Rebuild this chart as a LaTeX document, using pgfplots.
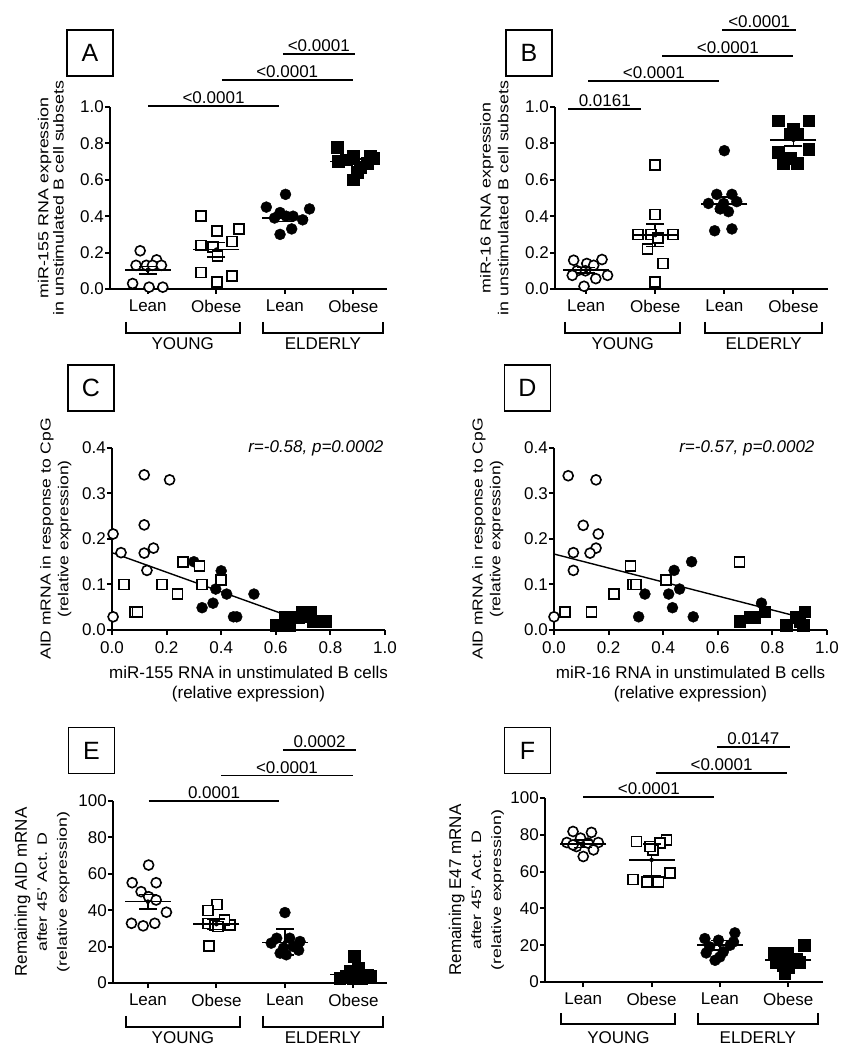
\documentclass[border=0pt]{standalone}
\usepackage{pgfplots}
\pgfplotsset{compat=1.18}
\usepackage{fontspec}
\setmainfont{Liberation Sans}
\usepackage{graphicx}
\newcommand\fs{\fontsize{17}{20}\selectfont}
\newcommand\sig[5]{\draw[line width=1.6pt] (axis cs:#1,#4) -- (axis cs:#2,#4); \node[font=\fs, anchor=base, yshift=2.5pt] at (axis cs:#3,#4) {#5};}
\newcommand\brk[7]{%
 \draw[line width=2pt] (axis cs:#1,#5) -- (axis cs:#1,#6) -- (axis cs:#2,#6) -- (axis cs:#2,#5);
 \draw[line width=2pt] (axis cs:#3,#5) -- (axis cs:#3,#6) -- (axis cs:#4,#6) -- (axis cs:#4,#5);
 \node[font=\fs] at (axis cs:{0.5*(#1+#2)},#7) {YOUNG};
 \node[font=\fs] at (axis cs:{0.5*(#3+#4)},#7) {ELDERLY};}
\pgfplotsset{
 gp/.style={scale only axis, axis x line=bottom, axis y line=left,
   axis line style={-, line width=2pt}, tick style={black, line width=2pt},
   major tick length=5pt, tick align=outside, clip=false, enlargelimits=false,
   tick label style={font=\fs}, yticklabel style={inner sep=1pt},
   xticklabel style={inner sep=1pt, yshift=-5pt},
   ylabel style={at={(rel axis cs:0,0.5)}, anchor=center, font=\fs},
   xlabel style={at={(rel axis cs:0.5,0)}, anchor=center, font=\fs}},
 cat/.style={xtick={0,1,2,3}, xticklabels={Lean,Obese,Lean,Obese}},
 oc/.style={only marks, mark=*, mark size=5pt, mark options={fill=white, draw=black, line width=1.6pt}},
 os/.style={only marks, mark=square*, mark size=5pt, mark options={fill=white, draw=black, line width=1.6pt}},
 fc/.style={only marks, mark=*, mark size=5.5pt, mark options={fill=black, draw=black}},
 fsq/.style={only marks, mark=square*, mark size=5.9pt, mark options={fill=black, draw=black}},
 mn/.style={only marks, mark=-, mark size=23pt, mark options={line width=1.6pt}},
 cap/.style={only marks, mark=-, mark size=9pt, mark options={line width=1.6pt}},
 stem/.style={only marks, mark=none, error bars/.cd, y dir=both, y explicit, error mark=none, error bar style={line width=1.6pt, black}},
}
\begin{document}
\begin{tikzpicture}
\useasboundingbox (0,0) rectangle (847pt,1050pt);
% panel letters
\foreach \x/\y/\l in {90/997/A, 529/997/B, 91/662/C, 527.5/662/D, 91.5/299.5/E, 527.5/299.5/F}
  \node[draw, line width=1.8pt, minimum width=46pt, minimum height=46pt, inner sep=0pt, font=\fontsize{25}{25}\selectfont] at (\x pt,\y pt) {\l};

% ---------------- A ----------------
\begin{axis}[gp, cat, at={(110pt,761pt)}, anchor=south west, width=277pt, height=182pt,
  xmin=-0.55, xmax=3.49, ymin=0, ymax=1,
  ytick={0,0.2,0.4,0.6,0.8,1.0}, yticklabels={0.0,0.2,0.4,0.6,0.8,1.0},
  ylabel={\scalebox{1.05}[0.85]{\fontsize{17}{18}\selectfont\begin{tabular}{@{}c@{}}miR-155 RNA expression\\in unstimulated B cell subsets\end{tabular}}},
  ylabel style={yshift=57pt}]
\addplot[oc] coordinates {(-0.11,0.21) (0.13,0.16) (-0.17,0.13) (-0.02,0.13) (0.07,0.13) (0.2,0.13) (-0.22,0.03) (0.02,0.01) (0.22,0.01)};
\addplot[os] coordinates {(0.78,0.40) (1.33,0.33) (1.01,0.32) (1.23,0.26) (0.78,0.24) (0.95,0.23) (1.02,0.18) (0.78,0.09) (1.23,0.07) (1.01,0.04)};
\addplot[fc] coordinates {(2.01,0.52) (1.73,0.45) (2.36,0.44) (1.93,0.42) (2.12,0.40) (1.85,0.39) (2.26,0.38) (2.10,0.33) (1.93,0.30) (2.02,0.40)};
\addplot[fsq] coordinates {(2.76,0.78) (3.24,0.73) (3.0,0.73) (2.90,0.71) (2.78,0.70) (3.20,0.69) (3.10,0.67) (3.05,0.64) (3.0,0.60) (3.29,0.72)};
\addplot[mn] coordinates {(0,0.104) (1,0.216) (2,0.39) (3,0.70)};
\addplot[cap] coordinates {(0,0.124) (0,0.084) (1,0.256) (1,0.176) (2,0.41) (2,0.37) (3,0.715) (3,0.685)};
\addplot[stem] coordinates {(0,0.104) +- (0,0.02) (1,0.216) +- (0,0.04) (2,0.39) +- (0,0.02) (3,0.70) +- (0,0.015)};
\sig{0.01}{1.91}{0.96}{1.005}{<0.0001}
\sig{1.08}{2.99}{2.035}{1.148}{<0.0001}
\sig{1.97}{3.02}{2.495}{1.29}{<0.0001}
\brk{-0.32}{1.34}{1.68}{3.43}{-0.181}{-0.242}{-0.302}
\end{axis}

% ---------------- B ----------------
\begin{axis}[gp, cat, at={(555pt,761pt)}, anchor=south west, width=273pt, height=182pt,
  xmin=-0.45, xmax=3.5, ymin=0, ymax=1,
  ytick={0,0.2,0.4,0.6,0.8,1.0}, yticklabels={0.0,0.2,0.4,0.6,0.8,1.0},
  ylabel={\scalebox{1.05}[0.85]{\fontsize{17}{21}\selectfont\begin{tabular}{@{}c@{}}miR-16 RNA expression\\in unstimulated B cell subsets\end{tabular}}},
  ylabel style={yshift=59pt}]
\addplot[oc] coordinates {(-0.18,0.158) (0.01,0.14) (0.23,0.162) (0.11,0.13) (-0.13,0.10) (-0.2,0.075) (0.14,0.057) (0.31,0.075) (-0.03,0.015) (-0.01,0.10)};
\addplot[os] coordinates {(1,0.68) (1,0.41) (0.75,0.30) (0.94,0.30) (1.26,0.30) (0.89,0.22) (1.11,0.14) (1,0.04) (1.04,0.28)};
\addplot[fc] coordinates {(2,0.76) (1.89,0.52) (2.11,0.52) (1.77,0.47) (1.99,0.47) (2.18,0.48) (2.06,0.425) (1.86,0.32) (2.11,0.33) (1.94,0.44)};
\addplot[fsq] coordinates {(2.78,0.925) (3.22,0.925) (3,0.88) (2.95,0.85) (3.05,0.85) (2.78,0.75) (3.22,0.77) (2.85,0.69) (3.05,0.69) (2.95,0.72)};
\addplot[mn] coordinates {(0,0.103) (1,0.296) (2,0.467) (3,0.82)};
\addplot[cap] coordinates {(0,0.118) (0,0.088) (1,0.358) (1,0.234) (2,0.507) (2,0.427) (3,0.853) (3,0.787)};
\addplot[stem] coordinates {(0,0.103) +- (0,0.015) (1,0.296) +- (0,0.062) (2,0.467) +- (0,0.04) (3,0.82) +- (0,0.033)};
\sig{-0.26}{0.80}{0.27}{0.989}{0.0161}
\sig{0.03}{1.93}{0.98}{1.143}{<0.0001}
\sig{1.10}{3.0}{2.05}{1.28}{<0.0001}
\sig{1.97}{3.04}{2.505}{1.423}{<0.0001}
\brk{-0.30}{1.36}{1.72}{3.42}{-0.181}{-0.242}{-0.302}
\end{axis}

% ---------------- C ----------------
\begin{axis}[gp, at={(112pt,420pt)}, anchor=south west, width=273pt, height=182pt,
  xmin=0, xmax=1, ymin=0, ymax=0.4,
  xtick={0,0.2,0.4,0.6,0.8,1.0}, xticklabels={0.0,0.2,0.4,0.6,0.8,1.0},
  ytick={0,0.1,0.2,0.3,0.4}, yticklabels={0.0,0.1,0.2,0.3,0.4},
  ylabel={\scalebox{1.03}[0.85]{\fontsize{17}{21}\selectfont\begin{tabular}{@{}c@{}}AID mRNA in response to CpG\\(relative expression)\end{tabular}}},
  ylabel style={yshift=56pt},
  xlabel={\begin{tabular}{@{}c@{}}miR-155 RNA in unstimulated B cells\\(relative expression)\end{tabular}},
  xlabel style={yshift=-55pt}]
\addplot[fsq] coordinates {(0.60,0.011) (0.634,0.029) (0.65,0.011) (0.683,0.029) (0.695,0.04) (0.726,0.04) (0.738,0.02) (0.78,0.02) (0.71,0.03)};
\addplot[fc] coordinates {(0.30,0.15) (0.40,0.13) (0.38,0.09) (0.42,0.079) (0.37,0.059) (0.33,0.049) (0.52,0.079) (0.445,0.029) (0.457,0.029)};
\addplot[os] coordinates {(0.043,0.10) (0.085,0.04) (0.094,0.04) (0.183,0.10) (0.24,0.079) (0.26,0.15) (0.32,0.14) (0.33,0.10) (0.40,0.11)};
\addplot[oc] coordinates {(0.118,0.341) (0.211,0.330) (0.118,0.231) (0.004,0.211) (0.118,0.169) (0.152,0.180) (0.033,0.170) (0.128,0.131) (0.004,0.029)};
\addplot[black, line width=1.4pt] coordinates {(0,0.17) (0.66,0.028)};
\node[anchor=east, font=\fs\itshape, xshift=2pt] at (rel axis cs:1,1) {r=-0.58, p=0.0002};
\end{axis}

% ---------------- D ----------------
\begin{axis}[gp, at={(554pt,420pt)}, anchor=south west, width=273pt, height=182pt,
  xmin=0, xmax=1, ymin=0, ymax=0.4,
  xtick={0,0.2,0.4,0.6,0.8,1.0}, xticklabels={0.0,0.2,0.4,0.6,0.8,1.0},
  ytick={0,0.1,0.2,0.3,0.4}, yticklabels={0.0,0.1,0.2,0.3,0.4},
  ylabel={\scalebox{1.03}[0.85]{\fontsize{17}{21}\selectfont\begin{tabular}{@{}c@{}}AID mRNA in response to CpG\\(relative expression)\end{tabular}}},
  ylabel style={yshift=66pt},
  xlabel={\begin{tabular}{@{}c@{}}miR-16 RNA in unstimulated B cells\\(relative expression)\end{tabular}},
  xlabel style={yshift=-55pt}]
\addplot[fsq] coordinates {(0.68,0.02) (0.717,0.029) (0.735,0.029) (0.772,0.04) (0.85,0.011) (0.888,0.029) (0.918,0.04) (0.912,0.011) (0.90,0.02)};
\addplot[fc] coordinates {(0.504,0.15) (0.44,0.131) (0.46,0.09) (0.42,0.079) (0.333,0.079) (0.434,0.049) (0.51,0.029) (0.31,0.029) (0.76,0.059)};
\addplot[os] coordinates {(0.04,0.04) (0.138,0.04) (0.22,0.079) (0.28,0.14) (0.29,0.10) (0.30,0.10) (0.41,0.11) (0.68,0.15)};
\addplot[oc] coordinates {(0.052,0.339) (0.154,0.330) (0.107,0.230) (0.162,0.211) (0.154,0.180) (0.132,0.169) (0.071,0.170) (0.071,0.131) (0.0,0.029)};
\addplot[black, line width=1.4pt] coordinates {(0,0.167) (0.91,0.027)};
\node[anchor=east, font=\fs\itshape, xshift=-9pt] at (rel axis cs:1,1) {r=-0.57, p=0.0002};
\end{axis}

% ---------------- E ----------------
\begin{axis}[gp, cat, at={(113pt,67pt)}, anchor=south west, width=274pt, height=182pt,
  xmin=-0.51, xmax=3.49, ymin=0, ymax=100,
  ytick={0,20,40,60,80,100},
  ylabel={\fontsize{17}{20}\selectfont\begin{tabular}{@{}c@{}}Remaining AID mRNA\\\scalebox{1.05}[0.8]{after 45' Act. D}\\\scalebox{1.05}[0.8]{(relative expression)}\end{tabular}},
  ylabel style={yshift=70pt},
  yticklabels={0,20,40,60,80,100}]
\addplot[oc] coordinates {(0.01,64.8) (-0.23,55.1) (0.12,55.1) (-0.1,50.2) (0.01,47.4) (0.12,45.6) (0.27,38.9) (-0.24,32.8) (-0.07,31.4) (0.1,32.8)};
\addplot[os] coordinates {(1.01,43.2) (0.88,39.8) (0.88,32.8) (0.98,31.9) (1.09,31.9) (1.2,31.9) (1.12,34.7) (0.89,20.4) (1.02,31)};
\addplot[fc] coordinates {(2,38.7) (1.88,24.6) (2.07,24.6) (2.22,22.8) (1.8,21.9) (1.98,19.2) (2.12,20.1) (1.93,16.4) (2.02,15.5) (2.2,18)};
\addplot[fsq] coordinates {(3.01,14.6) (3.07,8.2) (2.9,4.0) (3.2,4.6) (2.8,2.7) (3,2.7) (3.12,2.7) (3.24,3.6) (2.95,6.4)};
\addplot[mn] coordinates {(0,44.7) (1,32.3) (2,22.3) (3,4.6)};
\addplot[cap] coordinates {(0,48.7) (0,40.7) (1,35.3) (1,29.3) (2,29.6) (2,15.3) (3,6.6) (3,2.6)};
\addplot[stem] coordinates {(0,44.7) +- (0,4) (1,32.3) +- (0,3) (2,22.3) +- (0,7.1) (3,4.6) +- (0,2)};
\sig{0.01}{1.92}{0.965}{100}{0.0001}
\sig{1.07}{2.99}{2.03}{114}{<0.0001}
\sig{1.97}{3.04}{2.505}{128}{0.0002}
\brk{-0.32}{1.34}{1.68}{3.43}{-18.1}{-24.2}{-30.2}
\end{axis}

% ---------------- F ----------------
\begin{axis}[gp, cat, at={(545pt,68pt)}, anchor=south west, width=278pt, height=184pt,
  xmin=-0.56, xmax=3.51, ymin=0, ymax=100,
  ytick={0,20,40,60,80,100}, yticklabels={0,20,40,60,80,100},
  ylabel={\fontsize{17}{20}\selectfont\begin{tabular}{@{}c@{}}Remaining E47 mRNA\\\scalebox{1.05}[0.8]{after 45' Act. D}\\\scalebox{1.05}[0.8]{(relative expression)}\end{tabular}},
  ylabel style={yshift=68pt}]
\addplot[oc] coordinates {(-0.15,81.8) (0.12,81.3) (-0.04,78.2) (-0.24,75.8) (0.22,75.8) (0.07,75.5) (-0.1,73.6) (0.15,71.8) (0,68.2) (-0.15,74.5)};
\addplot[os] coordinates {(0.78,76.4) (1.22,77.3) (1.12,75.5) (1.02,71.8) (0.98,73.6) (0.73,55.8) (0.93,54.5) (1.1,54.5) (1.27,59.1)};
\addplot[fc] coordinates {(2.22,26.7) (1.78,23.6) (1.98,22.7) (2.15,20) (1.85,19.1) (2.05,16.4) (1.8,15.8) (1.93,11.8) (2,13.6) (2.2,21.8)};
\addplot[fsq] coordinates {(3.23,20) (2.8,15.5) (2.98,15.8) (3.12,12.7) (2.83,10.9) (3,8.2) (2.95,4.5) (3.17,10.9) (2.93,9.1)};
\addplot[mn] coordinates {(0,75.1) (1,66.4) (2,20) (3,11.8)};
\addplot[cap] coordinates {(0,77.1) (0,73.1) (1,74.9) (1,57.9) (2,22.5) (2,17.5) (3,14.3) (3,9.3)};
\addplot[stem] coordinates {(0,75.1) +- (0,2) (1,66.4) +- (0,8.5) (2,20) +- (0,2.5) (3,11.8) +- (0,2.5)};
\sig{0}{1.92}{0.96}{100.4}{<0.0001}
\sig{1.06}{2.99}{2.025}{113.6}{<0.0001}
\sig{1.96}{3.02}{2.49}{127.8}{0.0147}
\brk{-0.32}{1.35}{1.68}{3.43}{-17}{-22.8}{-30}
\end{axis}
\end{tikzpicture}
\end{document}
